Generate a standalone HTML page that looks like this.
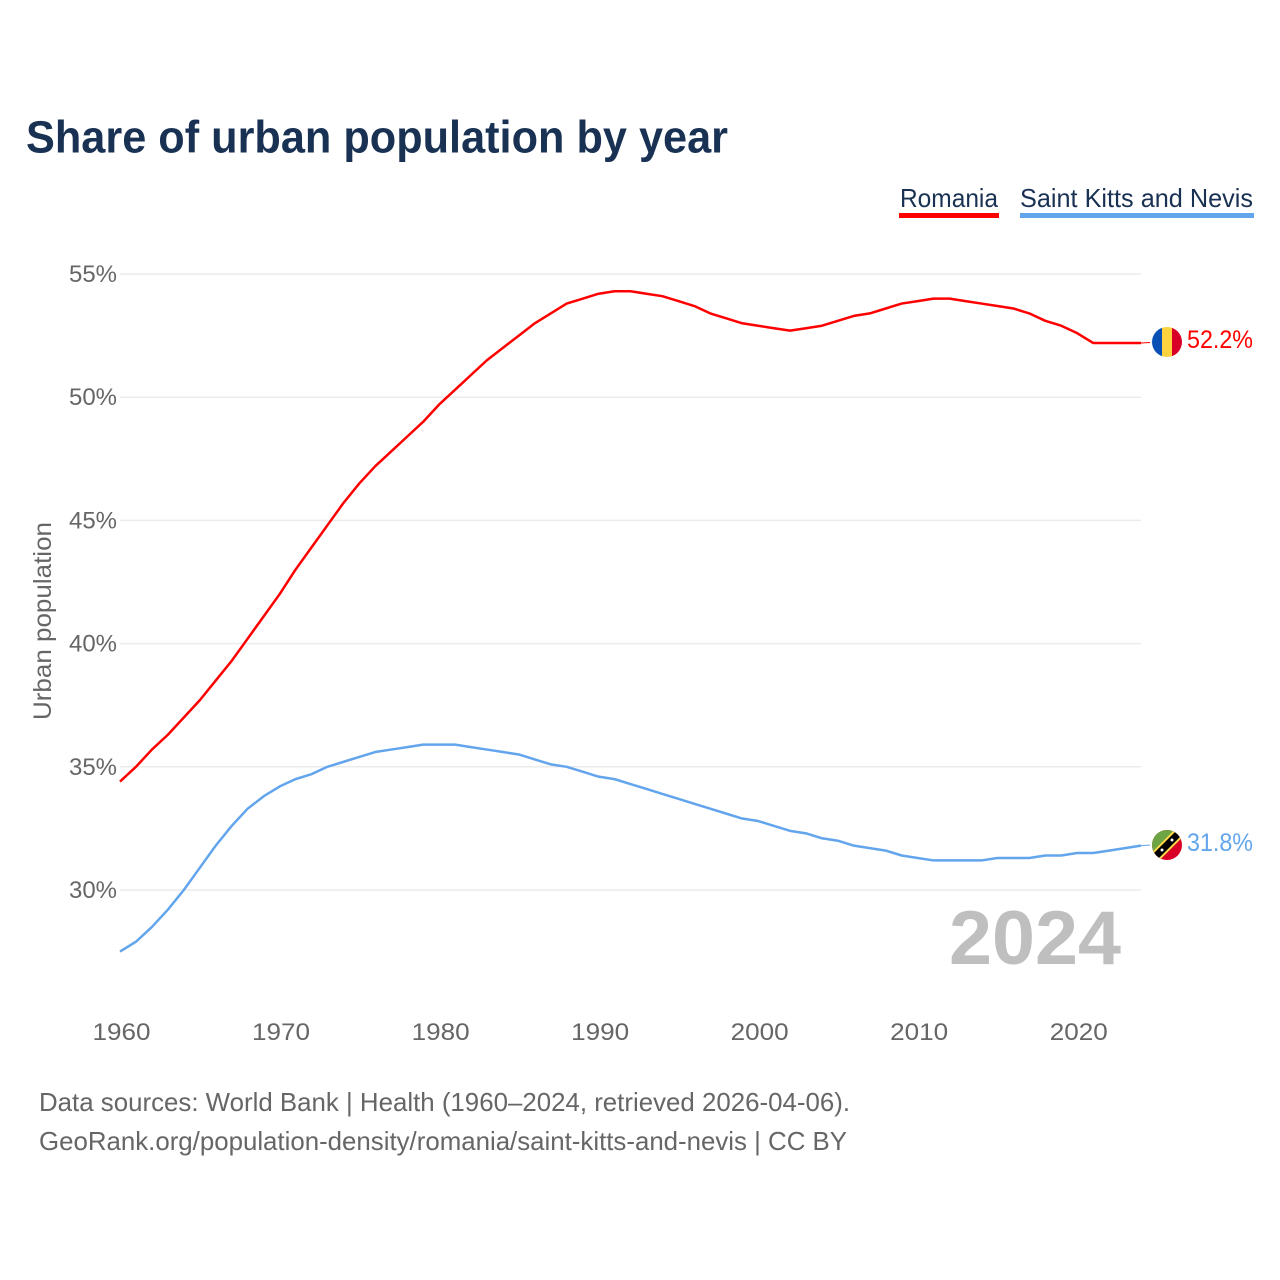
<!DOCTYPE html>
<html lang="en">
<head>
<meta charset="utf-8">
<title>Share of urban population by year</title>
<style>
html,body{margin:0;padding:0;background:#fff;width:1280px;height:1280px;overflow:hidden}
svg{display:block}
text{font-family:"Liberation Sans",sans-serif}
</style>
</head>
<body>
<svg id="chart" width="1280" height="1280" viewBox="0 0 1280 1280" xmlns="http://www.w3.org/2000/svg">
  <text x="26" y="152.5" font-size="45" font-weight="700" fill="#193253" textLength="702" lengthAdjust="spacingAndGlyphs">Share of urban population by year</text>

  <g>
    <g>
      <text x="900" y="207" font-size="26" fill="#193253" textLength="98" lengthAdjust="spacingAndGlyphs">Romania</text>
      <rect x="899" y="213" width="100" height="5" fill="#ff0000"/>
    </g>
    <g>
      <text x="1020" y="207" font-size="26" fill="#193253" textLength="233" lengthAdjust="spacingAndGlyphs">Saint Kitts and Nevis</text>
      <rect x="1020" y="213" width="234" height="5" fill="#63a5ec"/>
    </g>
  </g>

  <g id="grid"></g>
  <g id="yTicks"></g>
  <g id="xTicks"></g>

  <text transform="translate(51,621) rotate(-90)" text-anchor="middle" font-size="25" fill="#666" textLength="198" lengthAdjust="spacingAndGlyphs">Urban population</text>

  <text x="949" y="964" font-size="76" font-weight="700" fill="#bfbfbf" textLength="172" lengthAdjust="spacingAndGlyphs">2024</text>

  <g id="series"></g>

  <g id="endLabels"></g>

  <defs>
    <clipPath id="flagClipRo"><circle cx="1167" cy="342" r="15"/></clipPath>
    <clipPath id="flagClipKn"><circle cx="1167" cy="845" r="15"/></clipPath>
  </defs>
  <g clip-path="url(#flagClipRo)">
    <rect x="1152" y="327" width="10" height="30" fill="#0a50b4"/>
    <rect x="1162" y="327" width="10" height="30" fill="#ffd340"/>
    <rect x="1172" y="327" width="10" height="30" fill="#d80027"/>
  </g>
  <g clip-path="url(#flagClipKn)">
    <rect x="1152" y="830" width="30" height="30" fill="#d80027"/>
    <polygon points="1152,830 1182,830 1152,860" fill="#6da544"/>
    <line x1="1152" y1="860" x2="1182" y2="830" stroke="#ffda44" stroke-width="11"/>
    <line x1="1152" y1="860" x2="1182" y2="830" stroke="#000" stroke-width="7"/>
    <circle cx="1162" cy="850" r="1.5" fill="#fff"/>
    <circle cx="1172" cy="840" r="1.5" fill="#fff"/>
  </g>

  <text x="39" y="1111" font-size="26" fill="#666" textLength="811" lengthAdjust="spacingAndGlyphs">Data sources: World Bank | Health (1960–2024, retrieved 2026-04-06).</text>
  <text x="39" y="1150" font-size="26" fill="#666" textLength="808" lengthAdjust="spacingAndGlyphs">GeoRank.org/population-density/romania/saint-kitts-and-nevis | CC BY</text>
</svg>

<script>
const startYear = 1960;
const romaniaValues = [34.4,35.0,35.7,36.3,37.0,37.7,38.5,39.3,40.2,41.1,42.0,43.0,43.9,44.8,45.7,46.5,47.2,47.8,48.4,49.0,49.7,50.3,50.9,51.5,52.0,52.5,53.0,53.4,53.8,54.0,54.2,54.3,54.3,54.2,54.1,53.9,53.7,53.4,53.2,53.0,52.9,52.8,52.7,52.8,52.9,53.1,53.3,53.4,53.6,53.8,53.9,54.0,54.0,53.9,53.8,53.7,53.6,53.4,53.1,52.9,52.6,52.2,52.2,52.2,52.2];
const saintKittsValues = [27.5,27.9,28.5,29.2,30.0,30.9,31.8,32.6,33.3,33.8,34.2,34.5,34.7,35.0,35.2,35.4,35.6,35.7,35.8,35.9,35.9,35.9,35.8,35.7,35.6,35.5,35.3,35.1,35.0,34.8,34.6,34.5,34.3,34.1,33.9,33.7,33.5,33.3,33.1,32.9,32.8,32.6,32.4,32.3,32.1,32.0,31.8,31.7,31.6,31.4,31.3,31.2,31.2,31.2,31.2,31.3,31.3,31.3,31.4,31.4,31.5,31.5,31.6,31.7,31.8];
const yTickValues = [30,35,40,45,50,55];
const xTickValues = [1960,1970,1980,1990,2000,2010,2020];

const NS = 'http://www.w3.org/2000/svg';
const xScale = function (year) { return 120 + (year - 1960) * (1021 / 64); };
const yScale = function (value) { return 890 - (value - 30) * (616 / 25); };

const gridGroup = document.getElementById('grid');
const yTickGroup = document.getElementById('yTicks');
const xTickGroup = document.getElementById('xTicks');
const seriesGroup = document.getElementById('series');
const endGroup = document.getElementById('endLabels');

yTickValues.forEach(function (v) {
  const line = document.createElementNS(NS, 'line');
  line.setAttribute('x1', 120);
  line.setAttribute('x2', 1141);
  line.setAttribute('y1', yScale(v));
  line.setAttribute('y2', yScale(v));
  line.setAttribute('stroke', '#ebebeb');
  line.setAttribute('stroke-width', 1.5);
  
  
  gridGroup.appendChild(line);

  const label = document.createElementNS(NS, 'text');
  label.setAttribute('x', 117);
  label.setAttribute('y', yScale(v) + 8);
  label.setAttribute('text-anchor', 'end');
  label.setAttribute('font-size', 24);
  label.setAttribute('fill', '#666');
  label.setAttribute('textLength', 48);
  label.setAttribute('lengthAdjust', 'spacingAndGlyphs');
  
  
  label.textContent = v + '%';
  yTickGroup.appendChild(label);
});

xTickValues.forEach(function (y) {
  const label = document.createElementNS(NS, 'text');
  label.setAttribute('x', xScale(y) + 1.5);
  label.setAttribute('y', 1040);
  label.setAttribute('text-anchor', 'middle');
  label.setAttribute('font-size', 24);
  label.setAttribute('fill', '#666');
  label.setAttribute('textLength', 58);
  label.setAttribute('lengthAdjust', 'spacingAndGlyphs');
  
  
  label.textContent = y;
  xTickGroup.appendChild(label);
});

function pointsFor(values) {
  return values.map(function (v, i) {
    return xScale(startYear + i).toFixed(2) + ',' + yScale(v).toFixed(2);
  }).join(' ');
}

const romaniaLine = document.createElementNS(NS, 'polyline');
romaniaLine.setAttribute('points', pointsFor(romaniaValues));
romaniaLine.setAttribute('fill', 'none');
romaniaLine.setAttribute('stroke', '#ff0000');
romaniaLine.setAttribute('stroke-width', 2.5);
romaniaLine.setAttribute('stroke-linejoin', 'round');


seriesGroup.appendChild(romaniaLine);

const kittsLine = document.createElementNS(NS, 'polyline');
kittsLine.setAttribute('points', pointsFor(saintKittsValues));
kittsLine.setAttribute('fill', 'none');
kittsLine.setAttribute('stroke', '#63a5ec');
kittsLine.setAttribute('stroke-width', 2.5);
kittsLine.setAttribute('stroke-linejoin', 'round');


seriesGroup.appendChild(kittsLine);

const romaniaLast = romaniaValues[romaniaValues.length - 1];
const kittsLast = saintKittsValues[saintKittsValues.length - 1];

const romaniaLeader = document.createElementNS(NS, 'line');
romaniaLeader.setAttribute('x1', xScale(2024));
romaniaLeader.setAttribute('x2', 1150);
romaniaLeader.setAttribute('y1', yScale(romaniaLast));
romaniaLeader.setAttribute('y2', yScale(romaniaLast) - 0.5);
romaniaLeader.setAttribute('stroke', '#ff0000');
romaniaLeader.setAttribute('stroke-width', 1);


endGroup.appendChild(romaniaLeader);

const kittsLeader = document.createElementNS(NS, 'line');
kittsLeader.setAttribute('x1', xScale(2024));
kittsLeader.setAttribute('x2', 1150);
kittsLeader.setAttribute('y1', yScale(kittsLast));
kittsLeader.setAttribute('y2', yScale(kittsLast) - 0.5);
kittsLeader.setAttribute('stroke', '#63a5ec');
kittsLeader.setAttribute('stroke-width', 1);


endGroup.appendChild(kittsLeader);

const romaniaValueLabel = document.createElementNS(NS, 'text');
romaniaValueLabel.setAttribute('x', 1187);
romaniaValueLabel.setAttribute('y', 348);
romaniaValueLabel.setAttribute('font-size', 25);
romaniaValueLabel.setAttribute('fill', '#ff0000');
romaniaValueLabel.setAttribute('textLength', 66);
romaniaValueLabel.setAttribute('lengthAdjust', 'spacingAndGlyphs');


romaniaValueLabel.textContent = romaniaLast.toFixed(1) + '%';
endGroup.appendChild(romaniaValueLabel);

const kittsValueLabel = document.createElementNS(NS, 'text');
kittsValueLabel.setAttribute('x', 1187);
kittsValueLabel.setAttribute('y', 851);
kittsValueLabel.setAttribute('font-size', 25);
kittsValueLabel.setAttribute('fill', '#63a5ec');
kittsValueLabel.setAttribute('textLength', 66);
kittsValueLabel.setAttribute('lengthAdjust', 'spacingAndGlyphs');


kittsValueLabel.textContent = kittsLast.toFixed(1) + '%';
endGroup.appendChild(kittsValueLabel);
</script>
</body>
</html>
